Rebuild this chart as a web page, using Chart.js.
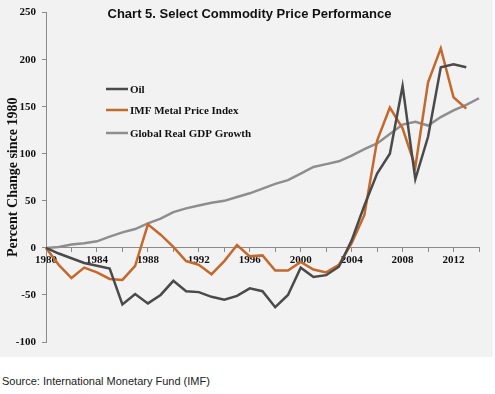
<!DOCTYPE html>
<html>
<head>
<meta charset="utf-8">
<script src="https://cdn.jsdelivr.net/npm/chart.js@4.4.1/dist/chart.umd.min.js"></script>
<style>
  body { margin: 0; background: #fff; width: 495px; height: 394px; position: relative; overflow: hidden; }
  #panel { position: absolute; left: 0; top: 0; width: 493px; height: 357px; background: #f2f2f2; }
  #title { position: absolute; left: 0; top: 6px; width: 499px; text-align: center;
           font: bold 13px "Liberation Sans", Arial, sans-serif; color: #111; }
  #source { position: absolute; left: 2px; top: 375px; font: 11px "Liberation Sans", Arial, sans-serif; color: #222; }
</style>
</head>
<body>
<div id="panel">
  <canvas id="commodityChart"></canvas>
  <div id="title">Chart 5. Select Commodity Price Performance</div>
</div>
<div id="source">Source: International Monetary Fund (IMF)</div>

<script>
// years 1980 - 2014
const years = [];
for (let y = 1980; y <= 2014; y++) years.push(String(y));

// percent change since 1980
const oil = [0, -6, -11, -16, -19, -22, -60, -49, -59, -50,
  -35, -46, -47, -52, -55, -51, -43, -46, -63, -50,
  -21, -31, -29, -20, 8, 45, 79, 100, 172, 73,
  118, 192, 195, 192, null];

const metalIndex = [0, -18, -32, -21, -26, -33, -34, -19, 25, 14,
  1, -14, -18, -28, -14, 3, -9, -8, -24, -24,
  -15, -23, -26, -18, 5, 35, 114, 149, 127, 86,
  176, 212, 160, 148, null];

const gdpGrowth = [0, 1, 3.5, 5, 7, 12, 16.5, 20, 26, 31,
  38, 42, 45, 48, 50, 54, 58, 63, 68, 72,
  79, 86, 89, 92, 98, 105, 111, 121, 131, 134,
  130, 139, 146, 152, 159];

const yTicks = { min: -100, max: 250, step: 50 };

// legend drawn inside the plot, top-left
const insideLegend = {
  id: 'insideLegend',
  afterDraw(chart) {
    const ctx = chart.ctx;
    const rows = [89, 110, 133];
    ctx.save();
    ctx.font = 'bold 11px "Liberation Serif", "Times New Roman", serif';
    ctx.textBaseline = 'middle';
    chart.data.datasets.forEach((ds, i) => {
      const y = rows[i];
      ctx.strokeStyle = ds.borderColor;
      ctx.lineWidth = 2.5;
      ctx.beginPath();
      ctx.moveTo(106, y);
      ctx.lineTo(128, y);
      ctx.stroke();
      ctx.fillStyle = '#111';
      ctx.fillText(ds.label, 130, y + 1);
    });
    ctx.restore();
  }
};

new Chart(document.getElementById('commodityChart'), {
  type: 'line',
  data: {
    labels: years,
    datasets: [
      { label: 'Oil', data: oil, borderColor: '#4a4a4a' },
      { label: 'IMF Metal Price Index', data: metalIndex, borderColor: '#c4682b' },
      { label: 'Global Real GDP Growth', data: gdpGrowth, borderColor: '#8e8e8e' },
    ],
  },
  options: {
    responsive: true,
    maintainAspectRatio: false,
    animation: false,
    layout: { padding: { left: 0, right: 14, top: 11, bottom: 15 } },
    elements: {
      line: { borderWidth: 2.5, tension: 0 },
      point: { radius: 0 },
    },
    scales: {
      x: {
        position: { y: 0 },
        offset: false,
        grid: {
          drawOnChartArea: false,
          tickLength: 4,
          color: (c) => (c.index % 2 === 0 ? '#8a8a8a' : 'rgba(0,0,0,0)'),
        },
        border: { color: '#8a8a8a', width: 1 },
        ticks: {
          autoSkip: false,
          maxRotation: 0,
          padding: 2,
          color: '#111',
          font: { family: '"Liberation Serif", "Times New Roman", serif', size: 11, weight: 'bold' },
          callback: function (val, i) { return i % 4 === 0 ? this.getLabelForValue(val) : ''; },
        },
      },
      y: {
        min: yTicks.min,
        max: yTicks.max,
        afterFit: (s) => { s.width = 46; },
        grid: { drawOnChartArea: false, tickLength: 4, color: '#8a8a8a' },
        border: { color: '#8a8a8a', width: 1 },
        ticks: {
          stepSize: yTicks.step,
          padding: 6,
          color: '#111',
          font: { family: '"Liberation Serif", "Times New Roman", serif', size: 11, weight: 'bold' },
        },
        title: {
          display: true,
          text: 'Percent Change since 1980',
          color: '#111',
          padding: { top: 5, bottom: 0 },
          font: { family: '"Liberation Serif", "Times New Roman", serif', size: 14, weight: 'bold' },
        },
      },
    },
    plugins: {
      legend: { display: false },
      tooltip: { enabled: false },
    },
  },
  plugins: [insideLegend],
});
</script>
</body>
</html>
